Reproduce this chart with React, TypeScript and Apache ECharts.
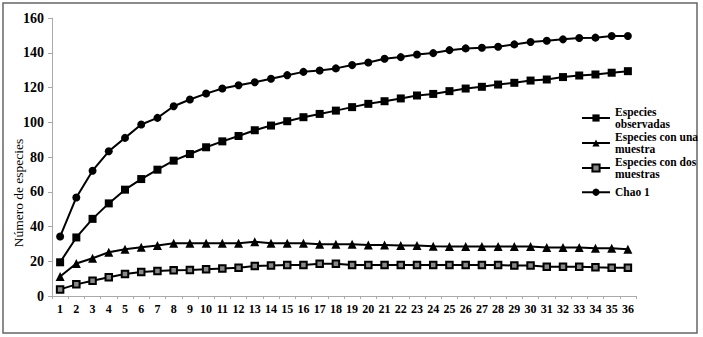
import React, { useEffect, useRef } from "react";
import * as echarts from "echarts";

const categories = Array.from({ length: 36 }, (_, i) => String(i + 1));

const observadas = [
  19.4, 33.7, 44.4, 53.3, 61.2, 67.3, 72.7, 77.9, 81.7, 85.6, 89, 92.1,
  95.4, 98.1, 100.6, 102.9, 104.8, 106.7, 108.7, 110.6, 112.1, 113.7, 115.4, 116.3,
  117.9, 119.4, 120.4, 121.7, 122.7, 124, 124.6, 126, 126.9, 127.5, 128.5, 129.4,
];
const unaMuestra = [
  11.2, 18.7, 21.7, 25.2, 26.9, 28.1, 29, 30.4, 30.4, 30.4, 30.4, 30.4,
  31.2, 30.4, 30.4, 30.4, 29.8, 29.8, 29.8, 29.4, 29.4, 29, 29, 28.7,
  28.5, 28.5, 28.5, 28.5, 28.5, 28.5, 27.9, 27.9, 27.9, 27.5, 27.5, 26.9,
];
const dosMuestras = [
  3.8, 6.7, 8.8, 10.8, 12.7, 13.8, 14.4, 14.8, 15, 15.4, 15.8, 16.3,
  17.3, 17.5, 17.9, 17.9, 18.5, 18.5, 17.9, 17.9, 17.9, 17.9, 17.9, 17.9,
  17.9, 17.9, 17.9, 17.9, 17.5, 17.5, 16.9, 16.9, 16.9, 16.5, 16.2, 16.2,
];
const chao1 = [
  34.2, 56.7, 72.1, 83.3, 91, 98.7, 102.5, 109.2, 113.1, 116.5, 119.4, 121.3,
  123, 125, 127.1, 129, 129.8, 131, 132.9, 134.4, 136.5, 137.5, 139, 139.8,
  141.5, 142.5, 142.9, 143.5, 144.8, 146.2, 146.9, 147.7, 148.5, 148.7, 149.6, 149.6,
];

const seriesNames = [
  "Especies observadas",
  "Especies con una muestra",
  "Especies con dos muestras",
  "Chao 1",
];
const legendLabels = [
  "Especies\nobservadas",
  "Especies con una\nmuestra",
  "Especies con dos\nmuestras",
  "Chao 1",
];
const yTicks = { min: 0, max: 160, interval: 20 };
const yTitle = "Número de especies";

const FONT = "'Liberation Serif', 'Times New Roman', serif";

export default function App() {
  const ref = useRef<HTMLDivElement>(null);
  useEffect(() => {
    if (!ref.current) return;
    const chart = echarts.init(ref.current, null, { renderer: "svg" });
    const seriesData = [observadas, unaMuestra, dosMuestras, chao1];
    const symbols = ["rect", "triangle", "rect", "circle"];
    const sizes = [8, 9, 6.5, 8];
    const legendCenters = [118, 143, 168, 193];
    const legends = seriesNames.map((name, i) => {
      const twoLines = legendLabels[i].includes("\n");
      const top = twoLines ? legendCenters[i] - 18.75 : legendCenters[i] - 7;
      return {
        show: true,
        orient: "vertical",
        left: 581,
        top,
        itemWidth: 28,
        itemHeight: 9,
        padding: 0,
        data: [name],
        formatter: () => legendLabels[i],
        textStyle: {
          fontFamily: FONT,
          fontWeight: "bold",
          fontSize: 11.5,
          color: "#000",
          lineHeight: 12.5,
          padding: twoLines ? [12.5, 0, 0, 0] : 0,
        },
      };
    });
    chart.setOption({
      animation: false,
      backgroundColor: "#fff",
      textStyle: { fontFamily: FONT },
      grid: { left: 52, right: 67, top: 18, bottom: 41, containLabel: false },
      legend: legends,
      xAxis: {
        type: "category",
        data: categories,
        boundaryGap: true,
        axisLine: { lineStyle: { color: "#aaa", width: 1 } },
        axisTick: { show: true, interval: 0, length: 3, lineStyle: { color: "#aaa" } },
        axisLabel: {
          interval: 0,
          margin: 7,
          fontFamily: FONT,
          fontWeight: "bold",
          fontSize: 12,
          color: "#000",
        },
      },
      yAxis: {
        type: "value",
        min: yTicks.min,
        max: yTicks.max,
        interval: yTicks.interval,
        splitLine: { show: false },
        axisLine: { show: true, lineStyle: { color: "#aaa", width: 1 } },
        axisTick: { show: true, length: 4, lineStyle: { color: "#aaa" } },
        axisLabel: {
          margin: 8,
          fontFamily: FONT,
          fontWeight: "bold",
          fontSize: 14,
          color: "#000",
        },
      },
      series: seriesNames.map((name, i) => ({
        name,
        type: "line",
        data: seriesData[i],
        symbol: symbols[i],
        symbolSize: sizes[i],
        showSymbol: true,
        lineStyle: { color: "#000", width: 2 },
        itemStyle:
          i === 2
            ? { color: "#888", borderColor: "#000", borderWidth: 2 }
            : { color: "#000", borderColor: "#000", borderWidth: 0 },
      })),
      graphic: [
        {
          type: "rect",
          shape: { x: 3, y: 3, width: 694, height: 330 },
          style: { fill: "none", stroke: "#666", lineWidth: 1.5 },
          silent: true,
        },
        {
          type: "text",
          x: 18,
          y: 193,
          rotation: Math.PI / 2,
          style: {
            text: yTitle,
            fontFamily: FONT,
            fontSize: 13.5,
            fill: "#000",
            align: "center",
            verticalAlign: "middle",
          },
          silent: true,
        },
      ],
    });
    return () => chart.dispose();
  }, []);
  return (
    <div
      ref={ref}
      style={{ position: "fixed", left: 0, top: 0, width: 703, height: 337 }}
    />
  );
}
